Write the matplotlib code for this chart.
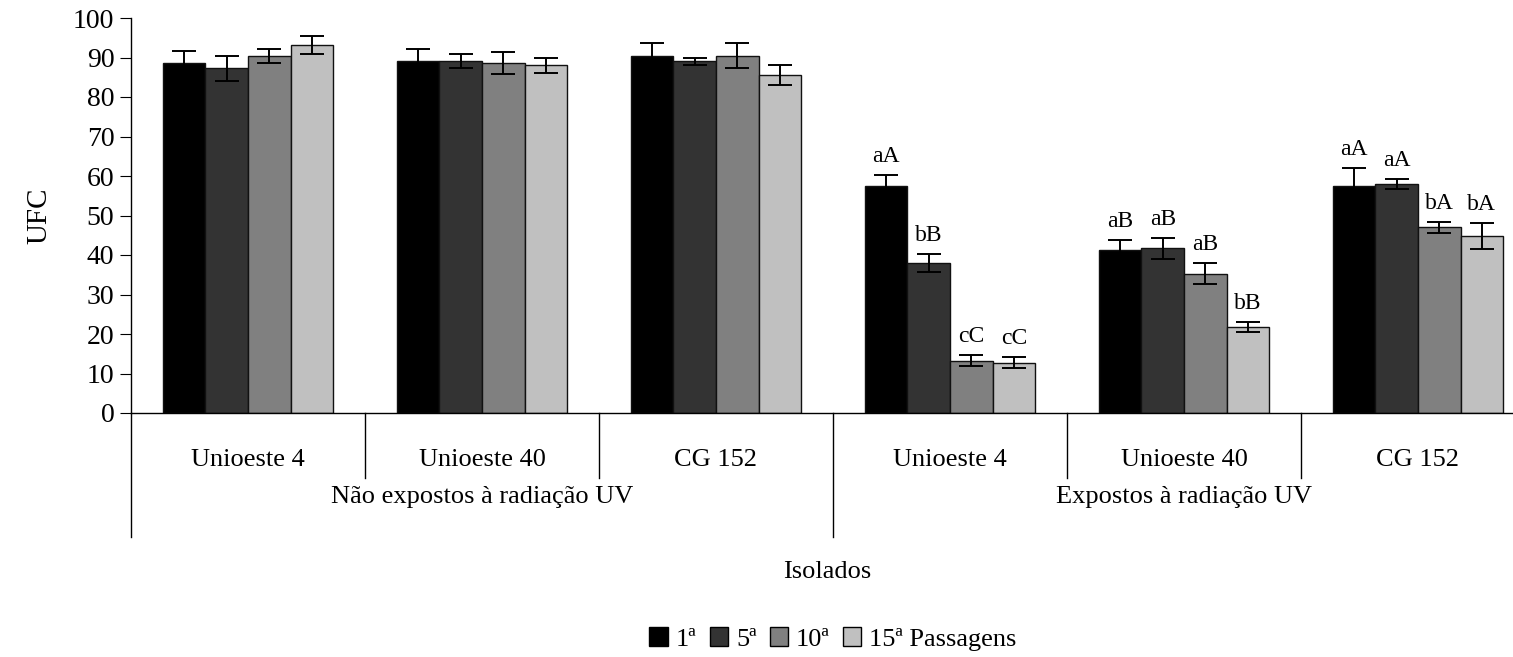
import matplotlib

matplotlib.use("Agg")

import matplotlib.pyplot as plt
import matplotlib.transforms as mtransforms
from matplotlib.patches import Patch

plt.rcParams['font.family'] = ['Liberation Serif', 'DejaVu Serif']

# data
isolates = ["Unioeste 4", "Unioeste 40", "CG 152", "Unioeste 4", "Unioeste 40", "CG 152"]
conditions = ["Não expostos à radiação UV", "Expostos à radiação UV"]
series_names = ["1ª", "5ª", "10ª", "15ª Passagens"]
p1 = [88.7, 89.2, 90.5, 57.5, 41.3, 57.5]
p5 = [87.3, 89.2, 89.0, 38.0, 41.7, 57.9]
p10 = [90.4, 88.6, 90.5, 13.2, 35.3, 47.0]
p15 = [93.1, 88.0, 85.5, 12.7, 21.8, 44.7]
e1 = [3.0, 3.0, 3.2, 2.7, 2.6, 4.5]
e5 = [3.2, 1.8, 0.8, 2.3, 2.6, 1.3]
e10 = [1.8, 2.7, 3.2, 1.4, 2.7, 1.4]
e15 = [2.3, 1.8, 2.5, 1.4, 1.2, 3.3]
letters1 = ["", "", "", "aA", "aB", "aA"]
letters5 = ["", "", "", "bB", "aB", "aA"]
letters10 = ["", "", "", "cC", "aB", "bA"]
letters15 = ["", "", "", "cC", "bB", "bA"]

values = [p1, p5, p10, p15]
errors = [e1, e5, e10, e15]
letters = [letters1, letters5, letters10, letters15]
colors = ['#000000', '#333333', '#808080', '#c0c0c0']

W, H = 1513, 657
fig = plt.figure(figsize=(W / 100, H / 100), dpi=100)
ax = fig.add_axes([131 / W, 1 - 413 / H, (1535 - 131) / W, (413 - 18) / H])

width = 0.182
n = len(isolates)
for k in range(4):
    xs = [i + (k - 1.5) * width for i in range(n)]
    ax.bar(xs, values[k], width=width, color=colors[k], edgecolor='#111111',
           linewidth=1.0, zorder=2)
    ax.errorbar(xs, values[k], yerr=errors[k], fmt='none', ecolor='black',
                elinewidth=1.4, capsize=8.5, capthick=1.4, zorder=3)
    for x, v, e, lab in zip(xs, values[k], errors[k], letters[k]):
        if lab:
            ax.text(x, v + e + 2.0, lab, ha='center', va='bottom', fontsize=17)

ax.set_xlim(-0.5, n - 0.5)
ax.set_ylim(0, 100)
ax.set_yticks(range(0, 101, 10))
ax.tick_params(axis='y', direction='out', length=8, labelsize=20, pad=4)
ax.tick_params(axis='x', length=0, labelbottom=False)
for s in ['top', 'right']:
    ax.spines[s].set_visible(False)
ax.spines['left'].set_linewidth(1.0)
ax.spines['bottom'].set_linewidth(1.0)
ax.set_ylabel("UFC", fontsize=21, labelpad=15)

# multi-level category axis
trans = mtransforms.blended_transform_factory(ax.transData, ax.transAxes)
ax_h = 413 - 18
y1 = -(478 - 413) / ax_h
y2 = -(537 - 413) / ax_h
for i in range(1, n):
    yb = y2 if i == 3 else y1
    ax.plot([i - 0.5, i - 0.5], [0, yb], color='black', lw=1.0,
            transform=trans, clip_on=False)
ax.plot([-0.5, -0.5], [0, y2], color='black', lw=1.0, transform=trans, clip_on=False)
for i, name in enumerate(isolates):
    ax.text(i, -(460 - 413) / ax_h, name, ha='center', va='center',
            fontsize=19, transform=trans)
for j, name in enumerate(conditions):
    ax.text(1 + 3 * j, -(497 - 413) / ax_h, name, ha='center', va='center',
            fontsize=19, transform=trans)

fig.text(827 / W, 1 - 572 / H, "Isolados", ha='center', va='center', fontsize=19)

handles = [Patch(facecolor=c, edgecolor='black', linewidth=1.0) for c in colors]
fig.legend(handles, series_names, loc='center', bbox_to_anchor=(833 / W, 1 - 639 / H),
           ncol=4, frameon=False, fontsize=19, handlelength=0.7, handleheight=0.7,
           handletextpad=0.3, columnspacing=0.5)

fig.savefig("out.png", dpi=100)
